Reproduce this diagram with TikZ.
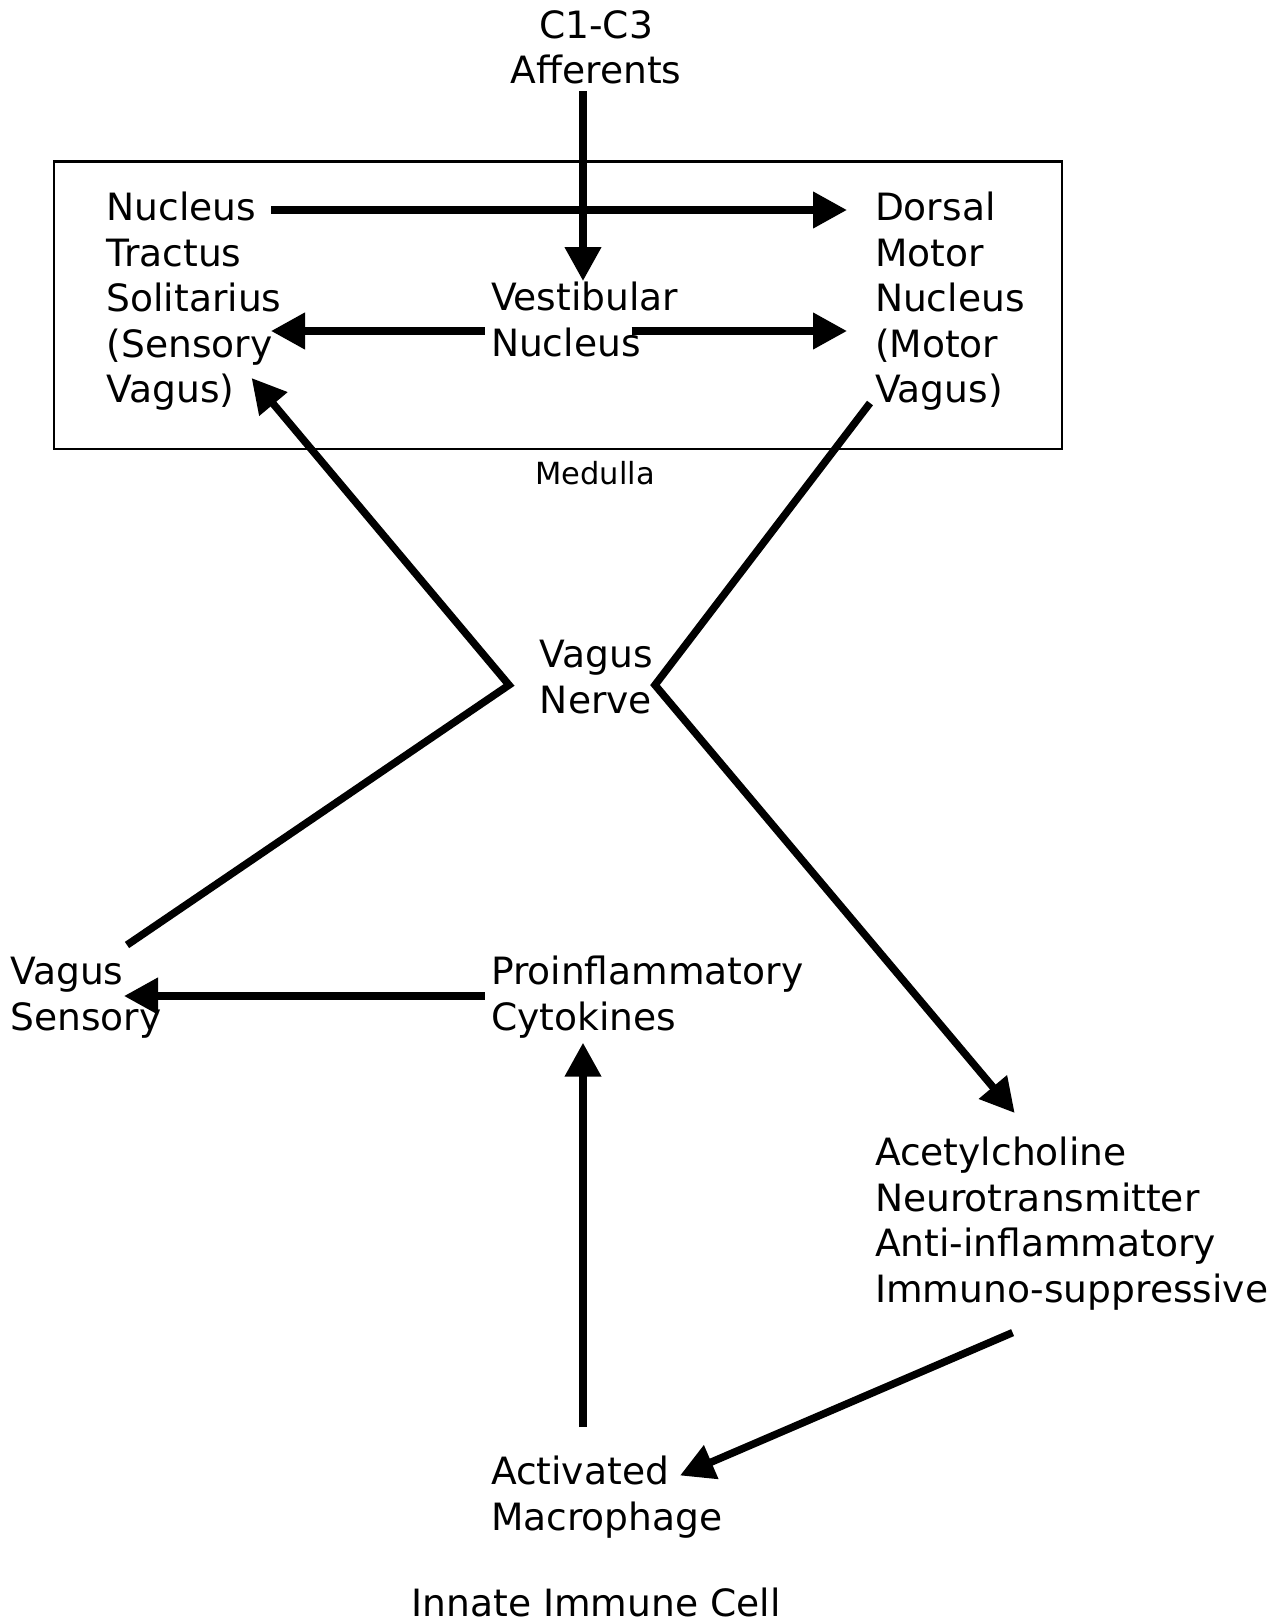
\documentclass[tikz,border=0pt]{standalone}
\usepackage{fontspec}
\setmainfont{DejaVu Sans}
\usetikzlibrary{arrows.meta}
\begin{document}
\begin{tikzpicture}[x=1pt,y=-1pt,
  lbl/.style={inner sep=0pt,outer sep=0pt,anchor=base west,align=left,font=\fontsize{37.6}{45.5}\selectfont},
  clbl/.style={inner sep=0pt,outer sep=0pt,anchor=base,align=center,font=\fontsize{37.6}{45.5}\selectfont},
  conn/.style={line width=7.5pt,line join=miter,-{Triangle[length=34pt,width=35pt]}},
  box/.style={draw,line width=2.2pt}]
\useasboundingbox (0,0) rectangle (1288,1623);
% box
\draw[box] (54,161.5) rectangle (1062,449);
\node[inner sep=0pt,anchor=base,font=\fontsize{30.5}{34}\selectfont] (med) at (595,484) {Medulla};
% texts (anchored at the baseline of their last line)
\node[clbl] (c13) at (596,83.5) {C1-C3\\Afferents};
\node[lbl] (nts) at (106.6,402.5) {Nucleus\\Tractus\\Solitarius\\(Sensory\\Vagus)};
\node[lbl] (dmn) at (875,402.5) {Dorsal\\Motor\\Nucleus\\(Motor\\Vagus)};
\node[lbl] (vest) at (491,356) {Vestibular\\Nucleus};
\node[clbl] (vn) at (596,713) {Vagus\\Nerve};
\node[lbl] (vs) at (10.4,1030) {Vagus\\Sensory};
\node[lbl] (cyt) at (491,1030) {Proinflammatory\\Cytokines};
\node[lbl] (ach) at (875,1302) {Acetylcholine\\Neurotransmitter\\Anti-inflammatory\\Immuno-suppressive};
\node[lbl] (mac) at (491,1530) {Activated\\Macrophage};
\node[clbl] (inn) at (596,1616.5) {Innate Immune Cell};
% coordinates
\coordinate (c13s) at (583,91);
\coordinate (vestn) at (583,281);
\coordinate (ntsr1) at (271,210);
\coordinate (dmnl1) at (847,210);
\coordinate (vestl) at (484.6,331);
\coordinate (ntsr4) at (271,331);
\coordinate (vestr) at (631.6,331);
\coordinate (dmnl4) at (847,331);
\coordinate (vsn) at (127,945);
\coordinate (vnl) at (509,685);
\coordinate (ntsb) at (251.6,378);
\coordinate (dmnb) at (870,403);
\coordinate (vnr) at (655,685);
\coordinate (acht) at (1014.7,1113);
\coordinate (cytl) at (484.6,996);
\coordinate (vsr) at (124,996);
\coordinate (mact) at (583,1427);
\coordinate (cytb) at (583,1042.7);
\coordinate (achb) at (1012.6,1332.6);
\coordinate (macr) at (680,1475.5);
% connectors
\draw[conn] (c13s) -- (vestn);
\draw[conn] (ntsr1) -- (dmnl1);
\draw[conn] (vestl) -- (ntsr4);
\draw[conn] (vestr) -- (dmnl4);
\draw[conn] (vsn) -- (vnl) -- (ntsb);
\draw[conn] (dmnb) -- (vnr) -- (acht);
\draw[conn] (cytl) -- (vsr);
\draw[conn] (mact) -- (cytb);
\draw[conn] (achb) -- (macr);
\end{tikzpicture}
\end{document}
